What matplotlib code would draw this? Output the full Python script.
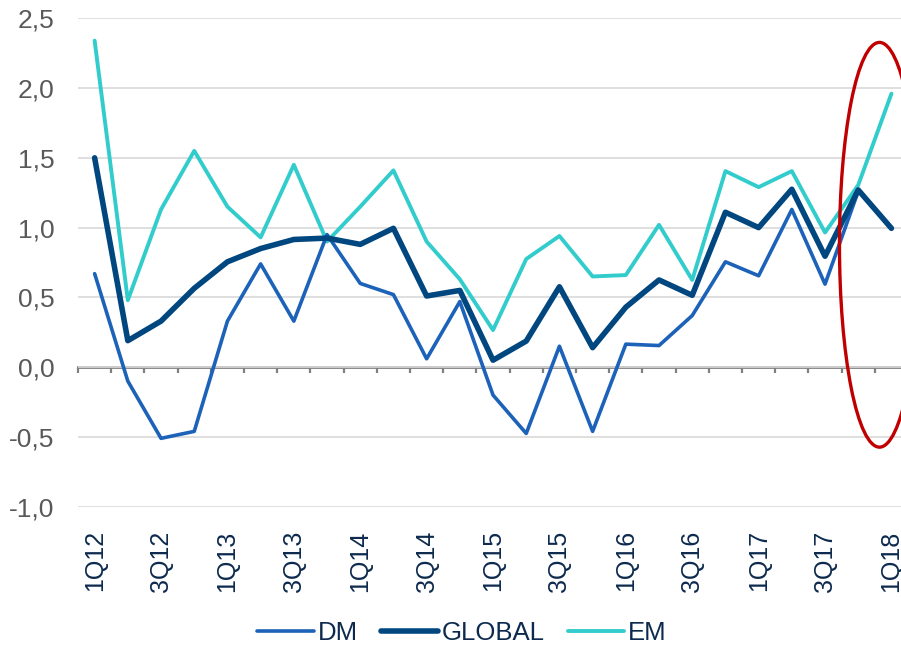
import numpy as np
import matplotlib.pyplot as plt
from matplotlib.patches import Ellipse
from matplotlib.ticker import FuncFormatter

plt.rcParams['font.family'] = ['Liberation Sans', 'DejaVu Sans']

# quarters 1Q12 .. 1Q18
quarters = [f'{q}Q{y}' for y in range(12, 19) for q in range(1, 5)][:25]
dm = [0.67, -0.10, -0.51, -0.46, 0.33, 0.74, 0.33, 0.95, 0.60, 0.52, 0.06, 0.47,
      -0.20, -0.475, 0.15, -0.46, 0.165, 0.155, 0.37, 0.755, 0.655, 1.13, 0.595, 1.26, np.nan]
glob = [1.50, 0.19, 0.33, 0.565, 0.755, 0.85, 0.915, 0.925, 0.88, 0.995, 0.51, 0.55,
        0.05, 0.187, 0.576, 0.14, 0.43, 0.625, 0.515, 1.11, 1.00, 1.275, 0.795, 1.27, 0.995]
em = [2.34, 0.48, 1.13, 1.55, 1.15, 0.93, 1.45, 0.90, 1.15, 1.41, 0.90, 0.63,
      0.266, 0.775, 0.94, 0.65, 0.66, 1.02, 0.625, 1.405, 1.29, 1.405, 0.965, 1.305, 1.96]

x = np.arange(len(quarters))
ymin, ymax = -1.0, 2.5

fig = plt.figure(figsize=(9.01, 6.48), dpi=100)
ax = fig.add_axes([0.0866, 0.218, 0.9212, 0.7538])

kw = dict(solid_capstyle='round', solid_joinstyle='round')
ax.plot(x, dm, color='#1C62B9', lw=2.6, label='DM', zorder=3, **kw)
ax.plot(x, glob, color='#00467F', lw=4.0, label='GLOBAL', zorder=4, **kw)
ax.plot(x, em, color='#33CCCC', lw=2.8, label='EM', zorder=2, **kw)

# highlight the latest quarters
ell = Ellipse((23.64, 0.877), width=2.41, height=2.90, fill=False,
              edgecolor='#C00000', lw=2.4, zorder=5)
ax.add_patch(ell)

ax.set_xlim(-0.5, 24.5)
ax.set_ylim(ymin, ymax)
ax.set_yticks(np.arange(-1.0, 2.51, 0.5))
ax.yaxis.set_major_formatter(FuncFormatter(lambda v, p: f'{v:.1f}'.replace('.', ',')))
ax.grid(axis='y', color='#D9D9D9', lw=1.2, zorder=0)
ax.set_axisbelow(True)
for s in ax.spines.values():
    s.set_visible(False)
ax.tick_params(axis='y', length=0, pad=17, labelsize=19, labelcolor='#595959')

ax.set_xticks(x[::2])
ax.set_xticklabels(quarters[::2], rotation=90)
ax.tick_params(axis='x', length=0, pad=17, labelsize=18, labelcolor='#0D2A4E')

# category axis crossing at zero
frac = (0 - ymin) / (ymax - ymin)
sec = ax.secondary_xaxis(frac)
sec.set_xticks(np.arange(-0.5, 25, 1))
sec.set_xticklabels([])
sec.tick_params(axis='x', direction='out', length=4.5, width=1.6, color='#808080')
sec.spines['bottom'].set_color('#808080')
sec.spines['bottom'].set_linewidth(2)

fig.legend(loc='center', bbox_to_anchor=(462 / 901, 1 - 633 / 648), ncol=3,
           frameon=False, fontsize=18.5, handlelength=2.2, handletextpad=0.15,
           columnspacing=0.9, labelcolor='#0D2A4E')

fig.savefig('out.png', dpi=100)
